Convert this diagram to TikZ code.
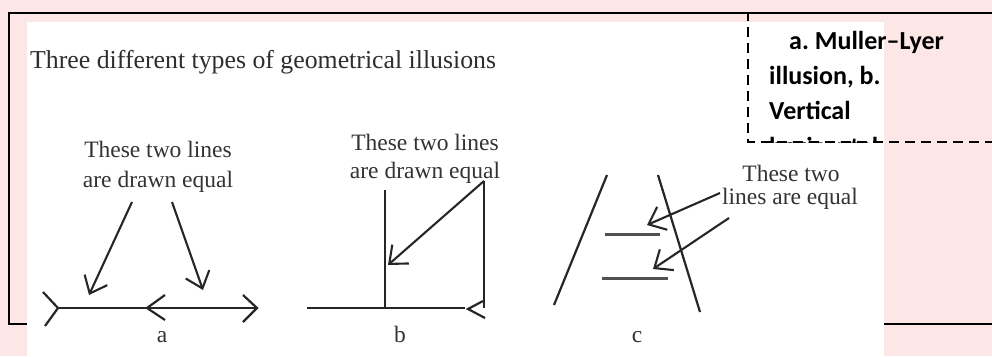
\documentclass[tikz,border=0pt]{standalone}
\usepackage{fontspec}
\setmainfont{Liberation Serif}
\newfontfamily\calib{Carlito}
\usetikzlibrary{arrows.meta}
\definecolor{ink}{HTML}{262626}
\definecolor{txt}{HTML}{333333}
\definecolor{wm}{HTML}{FDE6E6}
\tikzset{
  fig/.style={draw=ink,line width=2.2pt},
  thick gray/.style={draw=ink!80,line width=3pt},
  pointer/.style={draw=ink,line width=2.1pt,-{Straight Barb[length=15pt,width=25pt]}},
  lbl/.style={font=\fontsize{23.5}{28}\selectfont,text=txt,anchor=base,inner sep=0pt},
  titletext/.style={font=\fontsize{25.8}{30}\selectfont,text=black!82,anchor=base west,inner sep=0pt},
  note/.style={font=\calib\bfseries\fontsize{26}{35}\selectfont,text=black,anchor=base west,inner sep=0pt}
}
\begin{document}
\begin{tikzpicture}[x=1pt,y=-1pt]
\useasboundingbox (0,0) rectangle (992,356);
% watermark-like background
\fill[wm] (0,0) rectangle (992,356);
% frame
\draw[line width=2pt,black] (992,13) -- (9,13) -- (9,324) -- (992,324);
% white picture area
\fill[white] (27,22) rectangle (884,356);
% title
\node[titletext] (title) at (30,68) {Three different types of geometrical illusions};

% ---- figure a ----
\coordinate (aL) at (58,308);
\coordinate (aR) at (257,308);
\coordinate (aM) at (147,308);
\draw[fig] (aL) -- (aR);
\draw[fig] (43,292) -- (aL) -- (45,326);
\draw[fig] (165,295) -- (aM) -- (165,320);
\draw[fig] (243,295) -- (aR) -- (243,322);
\node[lbl] (la1) at (158,157) {These two lines};
\node[lbl] (la2) at (158,187) {are drawn equal};
\coordinate (pa1s) at (132,202);
\coordinate (pa1e) at (89,295);
\coordinate (pa2s) at (172,202);
\coordinate (pa2e) at (203,290);
\draw[pointer] (pa1s) -- (pa1e);
\draw[pointer] (pa2s) -- (pa2e);
\node[lbl] (ca) at (162,342) {a};

% ---- figure b ----
\coordinate (bL) at (307,308);
\coordinate (bR) at (465,308);
\coordinate (bVt) at (385,190);
\coordinate (bVb) at (385,308);
\coordinate (bRt) at (484,181);
\coordinate (bRb) at (484,308);
\coordinate (bTip) at (468,309);
\draw[fig] (bL) -- (bR);
\draw[fig] (bVt) -- (bVb);
\draw[fig] (bRt) -- (bRb);
\draw[fig] (483,301) -- (bTip) -- (485,318);
\node[lbl] (lb1) at (425,150) {These two lines};
\node[lbl] (lb2) at (425,178) {are drawn equal};
\coordinate (pbe) at (388,265);
\draw[pointer] (bRt) -- (pbe);
\node[lbl] (cb) at (400,342) {b};

% ---- figure c ----
\coordinate (c1t) at (607,175);
\coordinate (c1b) at (554,305);
\coordinate (c2t) at (658,175);
\coordinate (c2b) at (700,312);
\draw[fig] (c1t) -- (c1b);
\draw[fig] (c2t) -- (c2b);
\draw[thick gray] (605,234) -- (660,234);
\draw[thick gray] (602,278) -- (668,278);
\node[lbl] (lc1) at (791,181) {These two};
\node[lbl] (lc2) at (790,204) {lines are equal};
\coordinate (pc1s) at (720,193);
\coordinate (pc1e) at (647,225);
\coordinate (pc2s) at (729,218);
\coordinate (pc2e) at (653,269);
\draw[pointer] (pc1s) -- (pc1e);
\draw[pointer] (pc2s) -- (pc2e);
\node[lbl] (cc) at (637,342) {c};

% ---- dashed caption box ----
\begin{scope}
\clip (748,13) rectangle (992,142);
\node[note] (n1) at (789,49) {a.\ Muller–Lyer};
\node[note] (n2) at (769,84) {illusion, b.};
\node[note] (n3) at (769,119) {Vertical};
\node[note] (n4) at (769,155) {horizontal};
\end{scope}
\draw[line width=2pt,black,dash pattern=on 10pt off 6pt] (995,142) -- (748,142) -- (748,13);
\draw[line width=2pt,black,dash pattern=on 10pt off 6pt] (748,13) -- (992,13);
\end{tikzpicture}
\end{document}
